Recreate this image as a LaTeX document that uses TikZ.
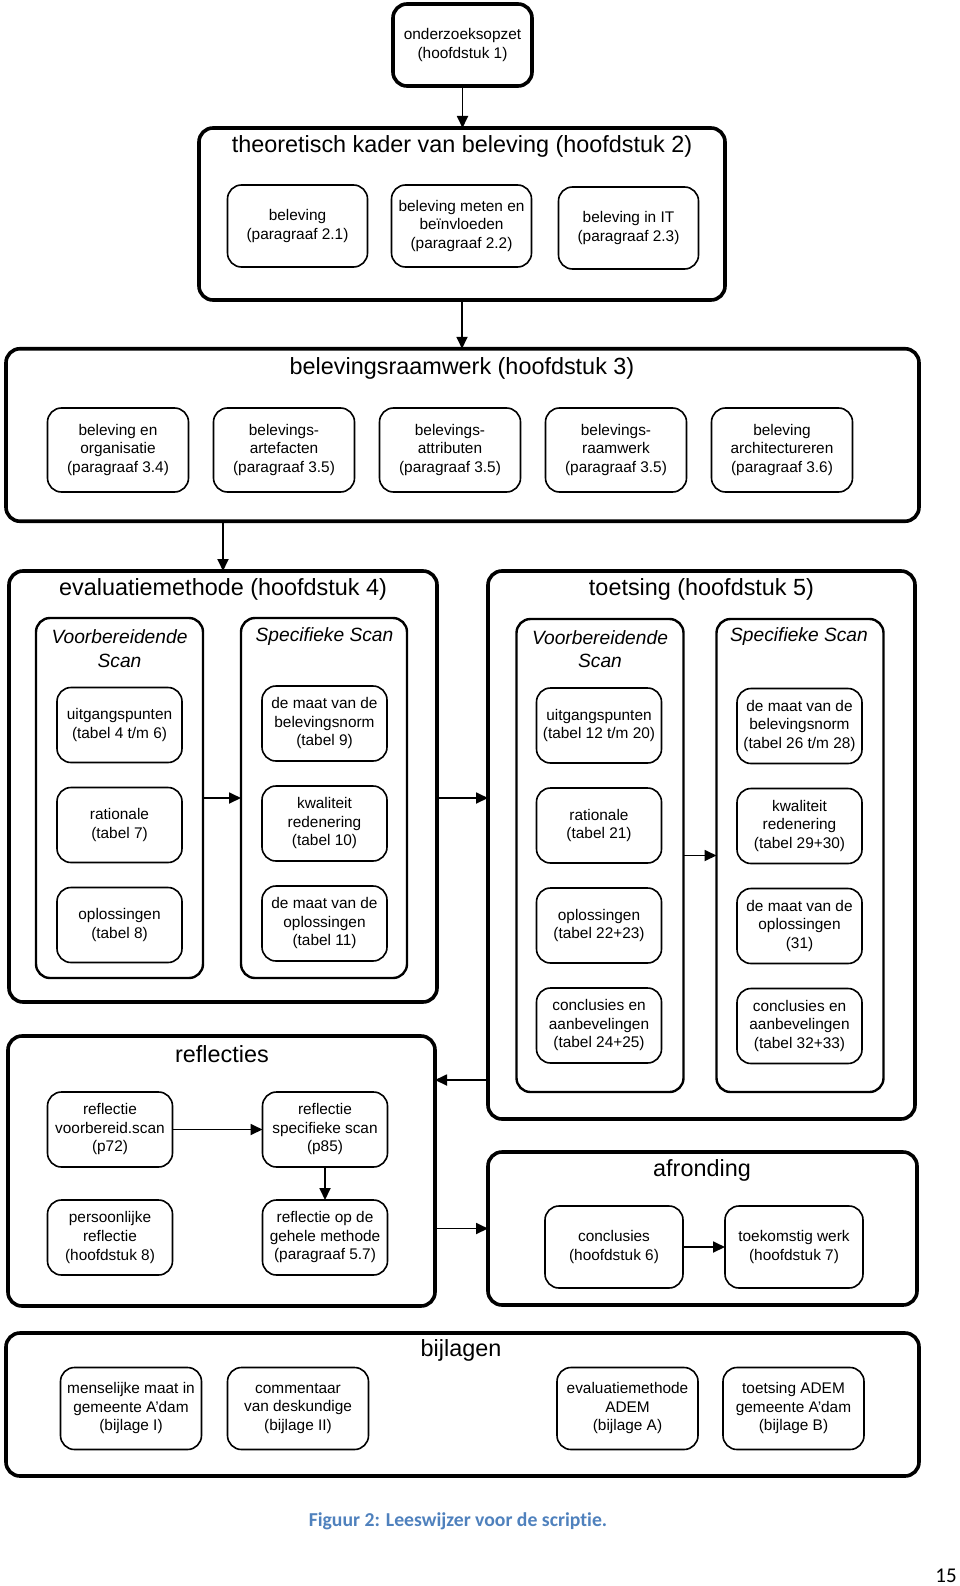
\documentclass[tikz,border=0pt]{standalone}
\usepackage{fontspec}
\setmainfont{Liberation Sans}
\newfontfamily\capfont[Ligatures={NoCommon,NoContextual}]{Carlito}
\usepackage{tikz}
\usetikzlibrary{arrows.meta, positioning, calc}
\definecolor{capblue}{RGB}{79,129,189}
\tikzset{
  chapbox/.style={rectangle,rounded corners=14pt,draw=black,line width=3.6pt,outer sep=0pt,inner sep=0pt},
  colbox/.style={rectangle,rounded corners=14pt,draw=black,line width=2.4pt,outer sep=0pt,inner sep=0pt},
  itembox/.style={rectangle,rounded corners=14pt,draw=black,line width=1.6pt,outer sep=0pt,inner sep=0pt,align=center,font=\fontsize{15.4}{18.5}\selectfont,minimum width=125pt,minimum height=75pt},
  chaptitle/.style={inner sep=0pt,font=\fontsize{23.4}{28}\selectfont},
  coltitle/.style={inner sep=0pt,align=center,font=\fontsize{19.2}{23.5}\selectfont\itshape},
  arr/.style={-{Triangle[length=12pt,width=11pt]},line width=1.8pt,color=black}
}

\begin{document}
\begin{tikzpicture}[x=1pt,y=-1pt]
  \useasboundingbox (0,0) rectangle (960,1586);

  % hoofdstuk 1 en 2
  \node[itembox,line width=3.6pt,minimum width=139pt,minimum height=82pt] (h1) at (462.5,45) {onderzoeksopzet\\(hoofdstuk 1)};
  \node[chapbox,minimum width=526pt,minimum height=172pt] (h2) at (462,214) {};
  \node[chaptitle] (t2) at (462,146) {theoretisch kader van beleving (hoofdstuk 2)};
  \node[itembox,minimum width=140pt,minimum height=82pt] (b21) at (297.5,226) {beleving\\(paragraaf 2.1)};
  \node[itembox,minimum width=140pt,minimum height=82pt,right=24pt of b21] (b22) {beleving meten en\\beïnvloeden\\(paragraaf 2.2)};
  \node[itembox,minimum width=140pt,minimum height=82pt,right=27pt of b22,yshift=-2pt] (b23) {beleving in IT\\(paragraaf 2.3)};

  % hoofdstuk 3
  \node[chapbox,minimum width=913pt,minimum height=172.5pt] (h3) at (462.5,435) {};
  \node[chaptitle] (t3) at (462,368) {belevingsraamwerk (hoofdstuk 3)};
  \node[itembox,minimum width=141pt,minimum height=84pt] (b34) at (118,450) {beleving en\\organisatie\\(paragraaf 3.4)};
  \node[itembox,minimum width=141pt,minimum height=84pt,right=25pt of b34] (b35a) {belevings-\\artefacten\\(paragraaf 3.5)};
  \node[itembox,minimum width=141pt,minimum height=84pt,right=25pt of b35a] (b35b) {belevings-\\attributen\\(paragraaf 3.5)};
  \node[itembox,minimum width=141pt,minimum height=84pt,right=25pt of b35b] (b35c) {belevings-\\raamwerk\\(paragraaf 3.5)};
  \node[itembox,minimum width=141pt,minimum height=84pt,right=25pt of b35c] (b36) {beleving\\architectureren\\(paragraaf 3.6)};

  % hoofdstuk 4
  \node[chapbox,minimum width=428pt,minimum height=431pt] (h4) at (223,786.5) {};
  \node[chaptitle] (t4) at (223,589) {evaluatiemethode (hoofdstuk 4)};
  \node[colbox,minimum width=167pt,minimum height=360pt] (vs4) at (119.5,798) {};
  \node[colbox,minimum width=166pt,minimum height=360pt,right=38pt of vs4] (ss4) {};
  \node[coltitle] (tv4) at (119.5,648.5) {Voorbereidende\\Scan};
  \node[coltitle] (ts4) at (324.5,637) {Specifieke Scan};
  \node[itembox] (u4) at (119.5,725) {uitgangspunten\\(tabel 4 t/m 6)};
  \node[itembox,below=25pt of u4] (r4) {rationale\\(tabel 7)};
  \node[itembox,below=25pt of r4] (o4) {oplossingen\\(tabel 8)};
  \node[itembox] (m4) at (324.5,723.5) {de maat van de\\belevingsnorm\\(tabel 9)};
  \node[itembox,below=25pt of m4] (k4) {kwaliteit\\redenering\\(tabel 10)};
  \node[itembox,below=25pt of k4] (d4) {de maat van de\\oplossingen\\(tabel 11)};

  % hoofdstuk 5
  \node[chapbox,minimum width=427pt,minimum height=548pt] (h5) at (701.5,845) {};
  \node[chaptitle] (t5) at (701.5,589) {toetsing (hoofdstuk 5)};
  \node[colbox,minimum width=167pt,minimum height=473pt] (vs5) at (600,855.5) {};
  \node[colbox,minimum width=167pt,minimum height=473pt,right=33pt of vs5] (ss5) {};
  \node[coltitle] (tv5) at (600,649) {Voorbereidende\\Scan};
  \node[coltitle] (ts5) at (799,637) {Specifieke Scan};
  \node[itembox] (u5) at (599,725.5) {uitgangspunten\\(tabel 12 t/m 20)};
  \node[itembox,below=25pt of u5] (r5) {rationale\\(tabel 21)};
  \node[itembox,below=25pt of r5] (o5) {oplossingen\\(tabel 22+23)};
  \node[itembox,below=25pt of o5] (c5) {conclusies en\\aanbevelingen\\(tabel 24+25)};
  \node[itembox] (m5) at (799.5,726) {de maat van de\\belevingsnorm\\(tabel 26 t/m 28)};
  \node[itembox,below=25pt of m5] (k5) {kwaliteit\\redenering\\(tabel 29+30)};
  \node[itembox,below=25pt of k5] (d5) {de maat van de\\oplossingen\\(31)};
  \node[itembox,below=25pt of d5] (a5) {conclusies en\\aanbevelingen\\(tabel 32+33)};

  % reflecties
  \node[chapbox,minimum width=427pt,minimum height=270pt] (refl) at (221.5,1171) {};
  \node[chaptitle] (tr) at (222,1054) {reflecties};
  \node[itembox] (rv) at (110,1129.5) {reflectie\\voorbereid.scan\\(p72)};
  \node[itembox,right=90pt of rv] (rs) {reflectie\\specifieke scan\\(p85)};
  \node[itembox,below=33pt of rv] (pr) {persoonlijke\\reflectie\\(hoofdstuk 8)};
  \node[itembox,below=33pt of rs] (rm) {reflectie op de\\gehele methode\\(paragraaf 5.7)};

  % afronding
  \node[chapbox,minimum width=429pt,minimum height=153pt] (afr) at (702.5,1228.5) {};
  \node[chaptitle] (ta) at (702,1170) {afronding};
  \node[itembox,minimum width=138pt,minimum height=82pt] (co) at (614,1247) {conclusies\\(hoofdstuk 6)};
  \node[itembox,minimum width=138pt,minimum height=82pt,right=42pt of co] (tw) {toekomstig werk\\(hoofdstuk 7)};

  % bijlagen
  \node[chapbox,minimum width=913pt,minimum height=143pt] (bij) at (462.5,1404.5) {};
  \node[chaptitle] (tb) at (461,1350) {bijlagen};
  \node[itembox,minimum width=141pt,minimum height=82pt] (bi1) at (131,1408.5) {menselijke maat in\\gemeente A’dam\\(bijlage I)};
  \node[itembox,minimum width=141pt,minimum height=82pt,right=26pt of bi1] (bi2) {commentaar\\van deskundige\\(bijlage II)};
  \node[itembox,minimum width=141pt,minimum height=82pt] (biA) at (627.5,1408.5) {evaluatiemethode\\ADEM\\(bijlage A)};
  \node[itembox,minimum width=141pt,minimum height=82pt,right=25pt of biA] (biB) {toetsing ADEM\\gemeente A’dam\\(bijlage B)};

  \node[font=\capfont\bfseries\fontsize{19.7}{24}\selectfont,text=capblue] (cap) at (458,1521) {Figuur 2: Leeswijzer voor de scriptie.};
  \node[font=\capfont\fontsize{21}{25}\selectfont,inner sep=0pt] (pag) at (946,1576) {15};

  \draw[arr] (h1.south) -- (h1.south |- h2.north);
  \draw[arr] (h2.south) -- (h2.south |- h3.north);
  \draw[arr] (h4.north |- h3.south) -- (h4.north);
  \draw[arr] (vs4.east) -- (ss4.west);
  \draw[arr] (ss4.east -| h4.east) -- (ss4.east -| h5.west);
  \draw[arr] (vs5.east) -- (ss5.west);
  \draw[arr] ([yshift=39pt]h5.south west) -- ([yshift=39pt]h5.south west -| refl.east);
  \draw[arr] (afr.west -| refl.east) -- (afr.west);
  \draw[arr] (rv) -- (rs);
  \draw[arr] (rs) -- (rm);
  \draw[arr] (co) -- (tw);
\end{tikzpicture}
\end{document}
